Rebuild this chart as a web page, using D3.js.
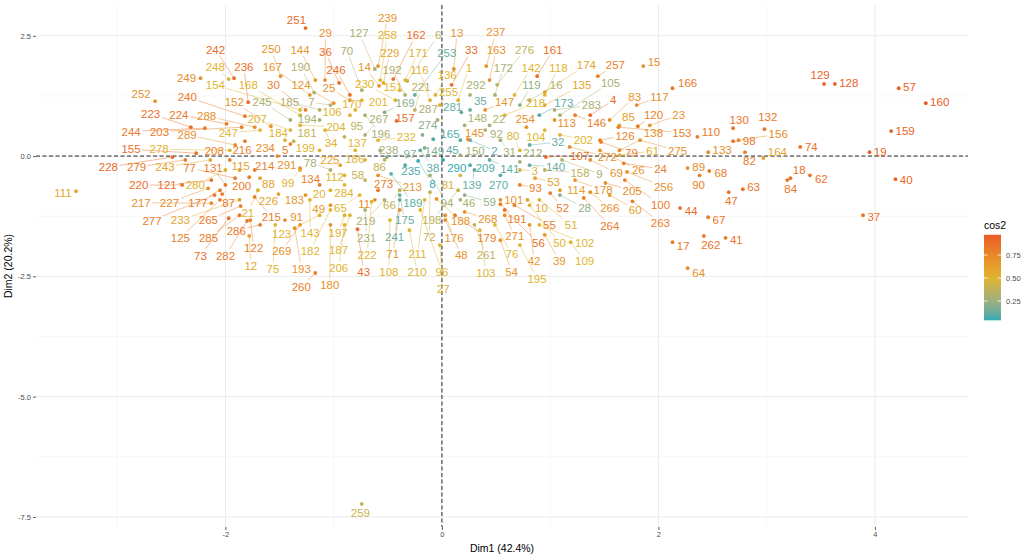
<!DOCTYPE html>
<html>
<head>
<meta charset="utf-8">
<script src="https://cdn.jsdelivr.net/npm/d3@7"></script>
<style>
body { margin: 0; background: #fff; }
text { font-family: "Liberation Sans", Arial, sans-serif; }
</style>
</head>
<body>
<script>
// individuals 1..292
var ids = d3.range(1, 293);

var dim1 = [
  0.15, 0.26, 0.72, 1.37, -1.40, -0.32, -1.03, -0.22, 1.11, 0.79,
  -0.62, -1.78, 0.11, -0.58, 1.86, 0.81, 2.13, 3.22, 3.95, -1.03,
  -1.70, 0.44, 1.92, 1.68, -0.85, 1.46, -0.02, 1.09, -1.08, -1.26,
  0.54, 0.81, 0.09, -1.08, 0.26, -0.95, 3.89, -0.20, 0.95, 4.19,
  2.62, 0.81, -0.78, 2.20, 0.17, 0.17, 2.65, 0.03, -1.03, 0.81,
  0.90, 1.00, 0.86, 0.54, 0.67, 0.58, 4.22, -0.71, 0.21, 1.55,
  1.64, 3.40, 2.78, 2.27, -0.76, -0.39, 2.46, 2.47, 1.37, -0.74,
  -0.39, -0.11, -1.97, 3.31, -1.54, 0.49, -1.91, -1.03, 1.47, 0.72,
  0.17, 2.80, 1.55, 3.19, 1.64, -0.53, -2.03, -1.68, 2.27, 2.38,
  -1.45, 0.40, 0.72, -0.11, -0.90, -0.20, -0.51, 2.69, -1.31, 1.69,
  0.54, 0.90, 0.35, 0.95, 1.09, -0.85, 0.96, -0.48, 1.19, 2.36,
  -3.38, -0.90, 1.04, 1.09, -1.87, -0.11, 1.80, 0.95, 0.72, 1.81,
  -2.13, -1.77, -1.13, -1.00, -2.05, 1.46, -0.62, 3.63, 3.53, 2.69,
  -2.00, 2.98, 2.46, -1.13, 0.95, -0.06, -0.80, 1.64, 0.30, 0.81,
  0.44, 0.67, -1.22, -1.17, 0.24, 1.23, 0.40, 0.21, -0.16, 0.17,
  -0.39, -1.58, 1.63, -1.31, -2.27, 2.74, -0.42, 0.95, 4.15, 4.47,
  0.88, -0.45, 0.44, 2.97, -0.08, 2.13, -1.22, -1.31, -0.53, -0.80,
  -0.34, 0.49, 0.90, 0.95, -0.39, 0.03, -2.05, 1.23, 0.12, -1.03,
  -1.37, -1.03, -1.26, -1.45, -1.13, -0.71, -0.85, -0.05, -0.47, -1.18,
  0.54, -0.34, -1.36, -1.13, 0.72, -0.71, -0.90, 0.15, -1.13, -1.78,
  -0.74, 1.09, -1.85, -1.31, 1.51, -0.90, -1.40, -1.96, 0.26, -0.30,
  -0.16, 0.72, -0.59, -1.73, -1.73, -1.82, -2.13, 0.58, -0.53, -2.40,
  -0.25, -0.65, -2.32, -1.99, -0.94, -1.51, -2.16, -2.49, -0.54, -0.43,
  -0.71, -0.59, -1.87, -1.52, -0.34, -1.79, 0.41, -0.57, -0.59, -1.82,
  -0.39, -1.92, -2.14, -2.19, -1.40, -0.85, -1.68, -1.97, -2.23, -1.49,
  -1.26, -2.65, -0.25, 0.78, -0.02, 1.71, 1.44, -0.57, -0.74, -1.17,
  0.30, 2.42, 1.76, 1.31, -1.86, 1.37, -0.71, 0.21, -1.31, 0.54,
  0.58, 1.18, -0.59, -0.18, 1.83, 0.51, -2.10, -1.96, -2.37, -2.00,
  0.18, -1.80, 1.04, -0.90, -1.87, -1.68, -0.04, -1.73, -1.91, 0.01,
  -1.31, 0.26
];

var dim2 = [
  1.16, 0.33, -0.29, 0.85, 0.25, 1.56, 1.06, -0.10, -0.08, -0.91,
  -0.91, -1.66, 1.81, 1.46, 1.87, 1.16, -1.79, -0.46, 0.08, -0.71,
  -0.71, 0.64, 0.64, -0.15, 1.16, 0.12, -1.85, -0.81, 1.58, 0.96,
  0.33, 0.23, 1.48, 0.54, 0.96, 1.52, -1.23, 0.12, -1.64, -0.48,
  -1.70, -1.43, -1.52, -1.08, 0.33, -0.91, -0.75, -1.33, -1.02, -1.02,
  -0.91, -0.77, -0.46, -1.75, -1.02, -1.12, 1.41, -0.50, -0.81, -0.81,
  0.02, -0.40, -0.69, -2.33, -0.81, -0.71, -1.27, -0.31, -0.08, 1.37,
  -1.12, -0.75, -1.29, 0.19, -1.43, -1.43, -0.46, -0.29, 0.29, 0.12,
  -0.40, 0.08, 0.75, -0.50, 0.64, -0.08, -0.79, -0.46, -0.25, -0.40,
  -1.33, 0.54, -0.60, -0.40, 0.40, -1.12, -0.02, 0.31, -0.29, -0.50,
  -0.91, -1.43, -1.54, 0.54, 0.85, 0.85, -0.02, -1.33, -1.79, 0.40,
  -0.73, -0.40, 0.75, -0.71, -0.29, 1.16, 1.06, 1.27, 1.06, 0.62,
  -0.50, -1.33, -1.23, 1.10, -0.91, 0.33, 1.81, 1.50, 1.50, 0.58,
  -0.60, 0.56, 0.08, -0.60, 1.06, 1.27, 0.12, 0.12, -0.29, -0.19,
  -0.08, 1.27, -0.91, 1.58, 0.35, 0.85, 0.96, 0.64, 0.17, 0.02,
  1.37, 0.62, 0.60, 0.96, 0.06, 0.33, 0.73, -0.29, 0.52, 1.10,
  1.66, 1.60, 1.58, -0.04, 0.35, 1.41, 1.27, 0.85, 0.91, 0.96,
  1.58, 1.27, 0.85, 1.33, -0.81, -1.23, -0.71, -0.50, -1.23, -1.43,
  0.31, -1.12, -0.81, 0.33, 0.96, -0.08, -1.23, -0.89, -0.37, 1.32,
  -1.00, 1.27, -1.50, 0.75, -1.85, 0.85, -1.23, -0.71, 0.12, -0.44,
  1.16, 0.44, 0.60, 0.64, -0.56, -1.43, 0.54, -0.08, -0.19, -1.54,
  -0.91, -0.12, -0.40, -0.29, -0.85, 0.31, -0.98, 0.85, -0.91, -0.60,
  0.96, -0.95, 0.60, 0.67, -0.19, -0.79, -0.67, -0.02, 1.52, 1.16,
  -1.12, 0.33, -0.91, 0.00, -0.19, 1.12, 1.87, 0.12, 1.87, 0.83,
  -0.91, 1.62, -0.08, 0.58, 0.75, 1.27, 0.54, 1.60, 1.62, 1.66,
  2.66, 1.14, 1.27, 0.60, 1.06, -0.33, 1.66, 1.58, -7.23, -2.43,
  -1.43, -1.66, -0.94, -0.87, -1.04, -0.75, 0.44, -1.16, -1.43, -0.40,
  -1.23, 0.19, -0.71, 0.44, 0.33, 1.48, -0.81, 0.12, -0.08, -0.29,
  0.91, -1.35, 0.96, -0.60, -1.23, -1.43, 0.75, 0.60, 0.23, -0.08,
  -0.25, 1.27
];

var cos2 = [
  0.50, 0.10, 0.45, 0.90, 0.80, 0.38, 0.30, 0.05, 0.30, 0.60,
  0.70, 0.60, 0.70, 0.70, 0.72, 0.30, 0.82, 0.85, 0.95, 0.50,
  0.52, 0.30, 0.70, 0.80, 0.68, 0.68, 0.50, 0.20, 0.70, 0.80,
  0.28, 0.12, 0.88, 0.50, 0.12, 0.88, 0.85, 0.10, 0.68, 0.93,
  0.85, 0.68, 0.88, 0.90, 0.10, 0.30, 0.85, 0.70, 0.68, 0.50,
  0.48, 0.80, 0.60, 0.68, 0.80, 0.88, 0.95, 0.40, 0.22, 0.60,
  0.52, 0.86, 0.85, 0.72, 0.50, 0.40, 0.84, 0.80, 0.70, 0.30,
  0.70, 0.38, 0.90, 0.86, 0.50, 0.50, 0.80, 0.30, 0.80, 0.48,
  0.46, 0.80, 0.70, 0.85, 0.62, 0.40, 0.82, 0.60, 0.72, 0.80,
  0.70, 0.30, 0.80, 0.28, 0.38, 0.50, 0.18, 0.85, 0.50, 0.80,
  0.70, 0.50, 0.48, 0.50, 0.30, 0.50, 0.88, 0.50, 0.50, 0.82,
  0.60, 0.50, 0.70, 0.60, 0.60, 0.48, 0.72, 0.50, 0.22, 0.80,
  0.88, 0.80, 0.50, 0.68, 0.80, 0.78, 0.30, 0.93, 0.93, 0.84,
  0.82, 0.84, 0.72, 0.80, 0.60, 0.50, 0.50, 0.70, 0.10, 0.12,
  0.10, 0.50, 0.50, 0.68, 0.70, 0.80, 0.68, 0.30, 0.18, 0.28,
  0.50, 0.70, 0.80, 0.50, 0.88, 0.72, 0.88, 0.38, 0.94, 0.97,
  0.88, 0.88, 0.70, 0.60, 0.08, 0.82, 0.70, 0.50, 0.20, 0.50,
  0.52, 0.30, 0.10, 0.60, 0.12, 0.70, 0.80, 0.70, 0.80, 0.70,
  0.40, 0.50, 0.68, 0.50, 0.30, 0.48, 0.50, 0.68, 0.10, 0.32,
  0.80, 0.30, 0.70, 0.30, 0.50, 0.30, 0.50, 0.38, 0.50, 0.80,
  0.50, 0.50, 0.82, 0.50, 0.72, 0.50, 0.50, 0.80, 0.08, 0.50,
  0.50, 0.28, 0.70, 0.80, 0.80, 0.80, 0.72, 0.50, 0.30, 0.88,
  0.38, 0.50, 0.88, 0.82, 0.60, 0.60, 0.72, 0.90, 0.58, 0.50,
  0.30, 0.50, 0.60, 0.70, 0.08, 0.88, 0.70, 0.28, 0.70, 0.82,
  0.12, 0.88, 0.60, 0.82, 0.30, 0.88, 0.50, 0.52, 0.72, 0.68,
  0.90, 0.70, 0.12, 0.70, 0.50, 0.70, 0.80, 0.50, 0.42, 0.80,
  0.38, 0.85, 0.80, 0.80, 0.82, 0.70, 0.30, 0.68, 0.70, 0.10,
  0.70, 0.70, 0.80, 0.20, 0.70, 0.38, 0.82, 0.50, 0.82, 0.50,
  0.12, 0.82, 0.30, 0.50, 0.82, 0.82, 0.30, 0.70, 0.70, 0.04,
  0.70, 0.30
];

var xTicks = [-2, 0, 2, 4];
var xMinor = [-3, -1, 1, 3];
var yTicks = [2.5, 0, -2.5, -5, -7.5];
var yMinor = [1.25, -1.25, -3.75, -6.25];
var legendTicks = [0.25, 0.50, 0.75];

var width = 1026;
var height = 559;
var panel = {left: 36, right: 968, top: 5, bottom: 527};

var x = d3.scaleLinear().domain([-3.75, 4.86]).range([panel.left, panel.right]);
var y = d3.scaleLinear().domain([3.14, -7.71]).range([panel.top, panel.bottom]);

var cmin = d3.min(cos2), cmax = d3.max(cos2);
var color = d3.scaleLinear()
  .domain([cmin, 0.5, cmax])
  .range(['#2DAAB4', '#E0B42E', '#EB5A26'])
  .interpolate(d3.interpolateLab);

var svg = d3.select('body').append('svg')
  .attr('width', width)
  .attr('height', height);

// grid
var grid = svg.append('g');
grid.selectAll('.xminor').data(xMinor).enter().append('line')
  .attr('x1', function(d) { return x(d); }).attr('x2', function(d) { return x(d); })
  .attr('y1', panel.top).attr('y2', panel.bottom)
  .attr('stroke', '#f2f2f2').attr('stroke-width', 0.6);
grid.selectAll('.yminor').data(yMinor).enter().append('line')
  .attr('y1', function(d) { return y(d); }).attr('y2', function(d) { return y(d); })
  .attr('x1', panel.left).attr('x2', panel.right)
  .attr('stroke', '#f2f2f2').attr('stroke-width', 0.6);
grid.selectAll('.xmajor').data(xTicks).enter().append('line')
  .attr('x1', function(d) { return x(d); }).attr('x2', function(d) { return x(d); })
  .attr('y1', panel.top).attr('y2', panel.bottom)
  .attr('stroke', '#ebebeb').attr('stroke-width', 1);
grid.selectAll('.ymajor').data(yTicks).enter().append('line')
  .attr('y1', function(d) { return y(d); }).attr('y2', function(d) { return y(d); })
  .attr('x1', panel.left).attr('x2', panel.right)
  .attr('stroke', '#ebebeb').attr('stroke-width', 1);

// axes
var xAxis = svg.append('g')
  .attr('transform', 'translate(0,' + panel.bottom + ')')
  .call(d3.axisBottom(x).tickValues(xTicks).tickSize(3).tickPadding(2)
    .tickFormat(function(d) { return String(d); }));
var yAxis = svg.append('g')
  .attr('transform', 'translate(' + panel.left + ',0)')
  .call(d3.axisLeft(y).tickValues(yTicks).tickSize(3).tickPadding(2)
    .tickFormat(function(d) { return d.toFixed(1); }));
[xAxis, yAxis].forEach(function(a) {
  a.select('.domain').remove();
  a.selectAll('line').attr('stroke', '#333').attr('stroke-width', 0.8);
  a.selectAll('text').attr('fill', '#4d4d4d').style('font-size', '7.5px')
    .style('font-family', '"Liberation Sans", Arial, sans-serif');
});

svg.append('text')
  .attr('x', (panel.left + panel.right) / 2).attr('y', 552)
  .attr('text-anchor', 'middle').style('font-size', '10.5px')
  .text('Dim1 (42.4%)');
svg.append('text')
  .attr('transform', 'translate(12,' + (panel.top + panel.bottom) / 2 + ') rotate(-90)')
  .attr('text-anchor', 'middle').style('font-size', '10.5px')
  .text('Dim2 (20.2%)');

// reference lines
svg.append('line')
  .attr('x1', panel.left).attr('x2', panel.right)
  .attr('y1', y(0)).attr('y2', y(0))
  .attr('stroke', '#111').attr('stroke-width', 0.9).attr('stroke-dasharray', '4,2.5');
svg.append('line')
  .attr('x1', x(0)).attr('x2', x(0))
  .attr('y1', panel.top).attr('y2', panel.bottom)
  .attr('stroke', '#111').attr('stroke-width', 0.9).attr('stroke-dasharray', '4,2.5');

// points + labels
var pts = ids.map(function(id, i) {
  return {id: id, px: x(dim1[i]), py: y(dim2[i]), col: color(cos2[i])};
});

var segLayer = svg.append('g');
var ptLayer = svg.append('g');
var txtLayer = svg.append('g');

ptLayer.selectAll('circle').data(pts).enter().append('circle')
  .attr('cx', function(d) { return d.px; })
  .attr('cy', function(d) { return d.py; })
  .attr('r', 1.9)
  .attr('fill', function(d) { return d.col; });

var labels = txtLayer.selectAll('text').data(pts).enter().append('text')
  .attr('text-anchor', 'middle')
  .attr('dy', '0.36em')
  .style('font-size', '11.5px')
  .attr('fill', function(d) { return d.col; })
  .text(function(d) { return d.id; });

labels.each(function(d) {
  var bb = this.getBBox();
  d.w = bb.width + 1;
  d.h = 9.5;
});

// start labels slightly out from the cloud centre
pts.forEach(function(d, i) {
  var dx = d.px - 420, dy = d.py - 150;
  var len = Math.sqrt(dx * dx + dy * dy);
  if (len < 1) { dx = Math.cos(i * 2.4); dy = Math.sin(i * 2.4); len = 1; }
  d.x = d.px + dx / len * 10;
  d.y = d.py + dy / len * 10;
});

function repel(nodes, iters) {
  var pad = 8.5, ptR = 4;
  var n = nodes.length;
  for (var it = 0; it < iters; it++) {
    var cool = 1 - 0.5 * it / iters;
    for (var i = 0; i < n; i++) {
      var a = nodes[i];
      for (var j = i + 1; j < n; j++) {
        var b = nodes[j];
        var dx = b.x - a.x, dy = b.y - a.y;
        var ox = (a.w + b.w) / 2 + pad - Math.abs(dx);
        if (ox <= 0) continue;
        var oy = (a.h + b.h) / 2 + pad - Math.abs(dy);
        if (oy <= 0) continue;
        var d = Math.sqrt(dx * dx + dy * dy);
        if (d < 1e-6) { dx = Math.cos(i + j); dy = Math.sin(i + j); d = 1; }
        var m = Math.min(ox, oy) * 0.35 * cool;
        a.x -= dx / d * m; a.y -= dy / d * m;
        b.x += dx / d * m; b.y += dy / d * m;
      }
      for (var k = 0; k < n; k++) {
        var p = nodes[k];
        var ex = a.x - p.px, ey = a.y - p.py;
        var qx = a.w / 2 + ptR - Math.abs(ex);
        if (qx <= 0) continue;
        var qy = a.h / 2 + ptR - Math.abs(ey);
        if (qy <= 0) continue;
        var e = Math.sqrt(ex * ex + ey * ey) || 1;
        var mm = Math.min(qx, qy) * 0.35 * cool;
        a.x += ex / e * mm; a.y += ey / e * mm;
      }
      a.x += (a.px - a.x) * 0.002;
      a.y += (a.py - a.y) * 0.002;
      a.x = Math.max(panel.left + a.w / 2, Math.min(panel.right - a.w / 2, a.x));
      a.y = Math.max(panel.top + a.h / 2, Math.min(panel.bottom - a.h / 2, a.y));
    }
  }
}

repel(pts, 1100);

labels.attr('x', function(d) { return d.x; }).attr('y', function(d) { return d.y; });

pts.forEach(function(d) {
  var dx = d.px - d.x, dy = d.py - d.y;
  var sx = dx === 0 ? Infinity : (d.w / 2 + 1) / Math.abs(dx);
  var sy = dy === 0 ? Infinity : (d.h / 2 + 1.5) / Math.abs(dy);
  var s = Math.min(sx, sy);
  if (s >= 1) return;
  var ex = d.x + dx * s, ey = d.y + dy * s;
  var len = Math.sqrt((d.px - ex) * (d.px - ex) + (d.py - ey) * (d.py - ey));
  if (len < 7) return;
  segLayer.append('line')
    .attr('x1', ex).attr('y1', ey)
    .attr('x2', d.px).attr('y2', d.py)
    .attr('stroke', d.col).attr('stroke-width', 0.55).attr('stroke-opacity', 0.85);
});

// legend
var barX = 984, barW = 17;
var ly = d3.scaleLinear().domain([0.75, 0.25]).range([255, 301]);
var defs = svg.append('defs');
var grad = defs.append('linearGradient').attr('id', 'cosgrad')
  .attr('x1', 0).attr('y1', 1).attr('x2', 0).attr('y2', 0);
d3.range(0, 1.0001, 0.05).forEach(function(t) {
  grad.append('stop').attr('offset', t)
    .attr('stop-color', color(cmin + t * (cmax - cmin)));
});
svg.append('rect')
  .attr('x', barX).attr('y', ly(cmax))
  .attr('width', barW).attr('height', ly(cmin) - ly(cmax))
  .attr('fill', 'url(#cosgrad)');
svg.append('text').attr('x', barX).attr('y', ly(cmax) - 6)
  .style('font-size', '10.5px').text('cos2');
var lt = svg.append('g').selectAll('g').data(legendTicks).enter().append('g');
lt.append('line')
  .attr('x1', barX).attr('x2', barX + 3.5)
  .attr('y1', function(d) { return ly(d); }).attr('y2', function(d) { return ly(d); })
  .attr('stroke', '#fff').attr('stroke-width', 0.8);
lt.append('line')
  .attr('x1', barX + barW - 3.5).attr('x2', barX + barW)
  .attr('y1', function(d) { return ly(d); }).attr('y2', function(d) { return ly(d); })
  .attr('stroke', '#fff').attr('stroke-width', 0.8);
lt.append('text')
  .attr('x', barX + barW + 5).attr('y', function(d) { return ly(d); })
  .attr('dy', '0.35em').style('font-size', '7.5px').attr('fill', '#4d4d4d')
  .text(function(d) { return d.toFixed(2); });
</script>
</body>
</html>
